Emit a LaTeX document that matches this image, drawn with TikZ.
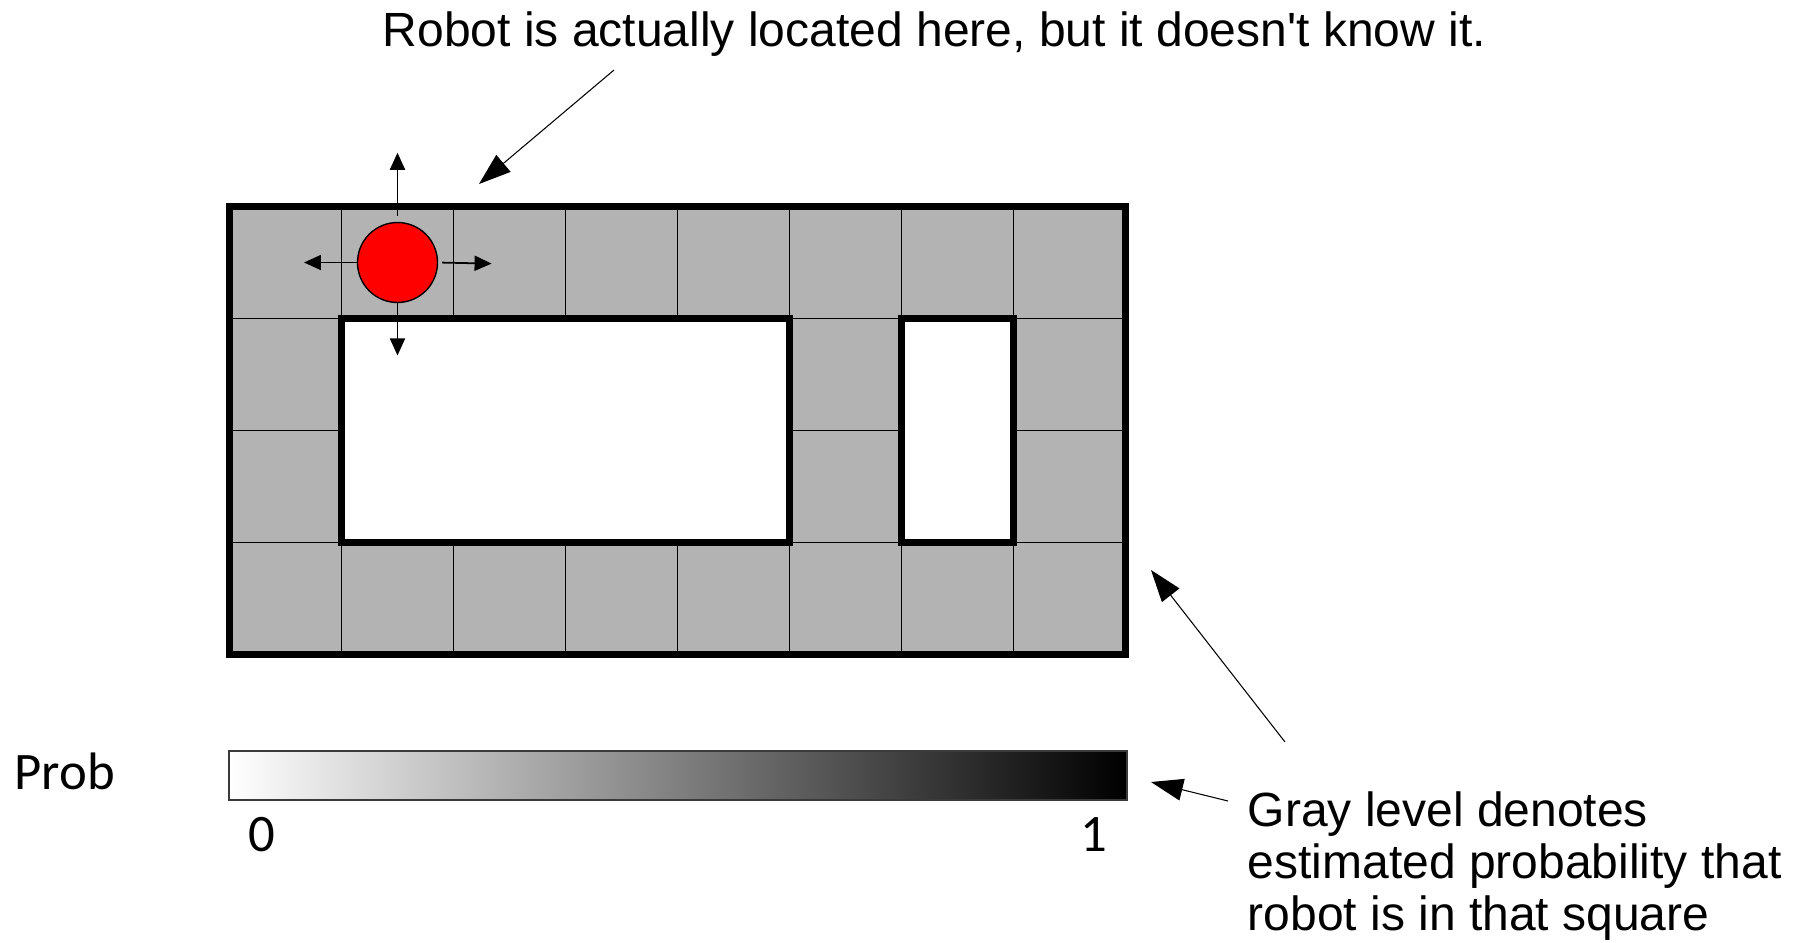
\documentclass[tikz,border=0pt]{standalone}
\usepackage{fontspec}
\setmainfont{Liberation Sans}
\newfontfamily\barfont{Carlito}
\usetikzlibrary{arrows.meta,calc}
\definecolor{cellgray}{HTML}{B3B3B3}
\definecolor{robotred}{HTML}{FF0000}
\definecolor{barframe}{HTML}{3A3A3A}

\begin{document}
\begin{tikzpicture}[x=0.1mm, y=-0.1mm, font=\fontsize{13.66pt}{14.75pt}\selectfont,
    cell/.style={fill=cellgray, draw=black, line width=0.45pt},
    wall/.style={draw=black, line width=2pt},
    move/.style={-{Triangle[length=1.7mm,width=1.5mm]}, line width=0.5pt},
    callout/.style={-{Triangle[length=3.2mm,width=2.2mm]}, line width=0.3pt},
    barlabel/.style={font=\barfont\fontsize{15pt}{15pt}\selectfont, inner sep=0pt, anchor=base}]
  \useasboundingbox (0,0) rectangle (1803,942);

  % map of the corridor, one unit = one square
  \begin{scope}[shift={(22.95mm,-20.65mm)}, x=11.2mm, y=-11.2mm]
    \foreach \c in {0,...,7}
      \foreach \r in {0,3}
        \draw[cell] (\c,\r) rectangle ++(1,1);
    \foreach \c in {0,5,7}
      \foreach \r in {1,2}
        \draw[cell] (\c,\r) rectangle ++(1,1);
    \draw[wall] (0,0) rectangle (8,4);
    \draw[wall, fill=white] (1,1) rectangle (5,3);
    \draw[wall, fill=white] (6,1) rectangle (7,3);

    \node[circle, draw, fill=robotred, line width=0.4pt, minimum size=8mm, inner sep=0pt] (robot) at (1.5,0.5) {};
    \coordinate (upTip) at (1.5,-0.48);
    \coordinate (downTip) at (1.5,1.33);
    \coordinate (leftTip) at (0.665,0.5);
    \coordinate (rightTip) at (2.34,0.51);
  \end{scope}

  \draw[move, shorten <=0.6mm] (robot) -- (upTip);
  \draw[move] (robot) -- (downTip);
  \draw[move] (robot) -- (leftTip);
  \draw[move, shorten <=0.4mm] (robot.east) -- (rightTip);

  % annotations
  \node[anchor=base west, inner sep=0pt] (whereText) at (382,46)
       {Robot is actually located here, but it doesn\textquotesingle t know it.};
  \coordinate (whereTail) at (614,70);
  \coordinate (whereHead) at (479,184);
  \draw[callout] (whereTail) -- (whereHead);

  \node[anchor=base west, align=left, inner sep=0pt] (grayText) at (1247,930)
       {Gray level denotes\\ estimated probability that\\ robot is in that square};
  \coordinate (gridTail) at (1285,742);
  \coordinate (gridHead) at (1151,570);
  \coordinate (barTail) at (1228,801);
  \coordinate (barHead) at (1151,782);
  \draw[callout] (gridTail) -- (gridHead);
  \draw[callout] (barTail) -- (barHead);

  % probability scale
  \node[draw=barframe, line width=0.5pt, left color=white, right color=black,
        minimum width=89.8mm, minimum height=4.9mm, inner sep=0pt, anchor=north west] (bar) at (228,750) {};
  \node[barlabel, anchor=base west] (probLabel) at (14,789) {Prob};
  \node[barlabel] (zeroLabel) at (262,851) {0};
  \node[barlabel] (oneLabel) at (1094,851) {1};
\end{tikzpicture}
\end{document}
